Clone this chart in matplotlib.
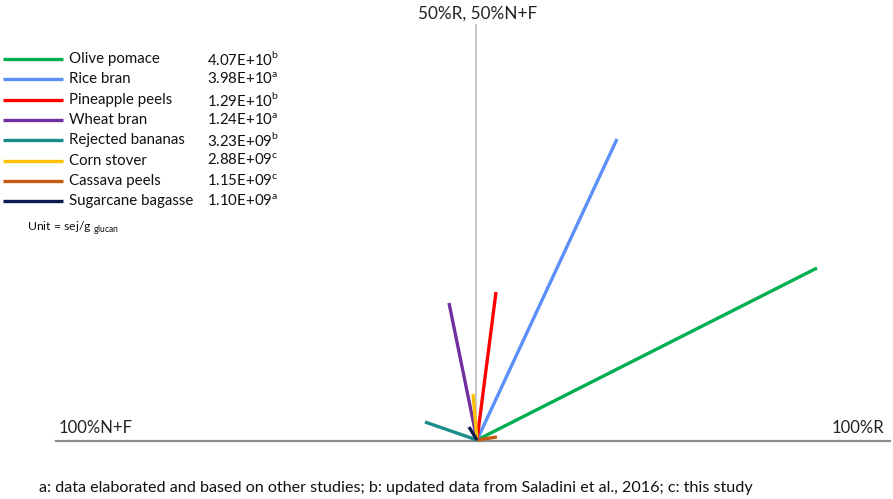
import matplotlib
matplotlib.use("Agg")
import matplotlib.pyplot as plt

plt.rcParams['font.family'] = ['Lato', 'DejaVu Sans']
plt.rcParams['mathtext.fontset'] = 'custom'
plt.rcParams['mathtext.rm'] = 'Lato'

# Data
categories = ["Olive pomace", "Rice bran", "Pineapple peels", "Wheat bran",
              "Rejected bananas", "Corn stover", "Cassava peels", "Sugarcane bagasse"]
values_text = ["4.07E+10", "3.98E+10", "1.29E+10", "1.24E+10",
               "3.23E+09", "2.88E+09", "1.15E+09", "1.10E+09"]
sources = ["b", "a", "b", "a", "b", "c", "c", "a"]
# vector end coordinates (x: toward R, y: toward 50%R/50%N+F)
vec_x = [340, 140, 19, -28, -52, -4, 20, -8]
vec_y = [172, 301, 148, 137, 18, 46, 3, 13]
colors = ["#00B050", "#5B8FF9", "#FF0000", "#7030A0",
          "#1A8C8C", "#FFC000", "#C55A11", "#0B1B4F"]

W, H = 893, 499
OX, OY = 477, 440
fig = plt.figure(figsize=(W/100, H/100), dpi=100)
ax = fig.add_axes([0, 0, 1, 1])
ax.set_xlim(-OX, W - OX)
ax.set_ylim(OY - H, OY)
ax.axis('off')

def P(px, py):
    return px - OX, OY - py

# axes lines
x0, y0 = P(56, 441); x1, _ = P(890, 441)
ax.plot([x0, x1], [y0, y0], color="#8C8C8C", lw=1.6, zorder=1)
vx, vy0 = P(476, 25)
ax.plot([vx, vx], [vy0, 0], color="#C0C0C0", lw=1.3, zorder=1)

# vectors
for i in range(len(categories)):
    ax.plot([0, vec_x[i]], [0, vec_y[i]], color=colors[i], lw=2.4,
            solid_capstyle='butt', zorder=3)

# legend
fs = 10.8
for i in range(len(categories)):
    py = 59 + i * 20.3
    a, b = P(3, py); a2, _ = P(63, py)
    ax.plot([a, a2], [b, b], color=colors[i], lw=2.4, solid_capstyle='butt')
    tx, ty = P(69, py)
    ax.text(tx, ty, categories[i], fontsize=fs, va='center', ha='left', color='#111111')
    vx2, _ = P(207, py)
    ax.text(vx2, ty, values_text[i] + r"$^{\mathregular{" + sources[i] + "}}$", fontsize=fs,
            va='center', ha='left', color='#111111')

ux, uy = P(27, 228)
ax.text(ux, uy, r"Unit = sej/g$_{\mathregular{\ glucan}}$", fontsize=8.8,
        va='center', ha='left', color='#111111')

tx, ty = P(478, 14)
ax.text(tx, ty, "50%R, 50%N+F", fontsize=12.3, ha='center', va='center', color='#222222')
tx, ty = P(59, 428)
ax.text(tx, ty, "100%N+F", fontsize=12, ha='left', va='center', color='#222222')
tx, ty = P(884, 428)
ax.text(tx, ty, "100%R", fontsize=12, ha='right', va='center', color='#222222')

tx, ty = P(39, 488)
ax.text(tx, ty, "a: data elaborated and based on other studies; b: updated data from Saladini et al., 2016; c: this study",
        fontsize=11.6, ha='left', va='center', color='#111111')

fig.savefig("out.png", dpi=100)
